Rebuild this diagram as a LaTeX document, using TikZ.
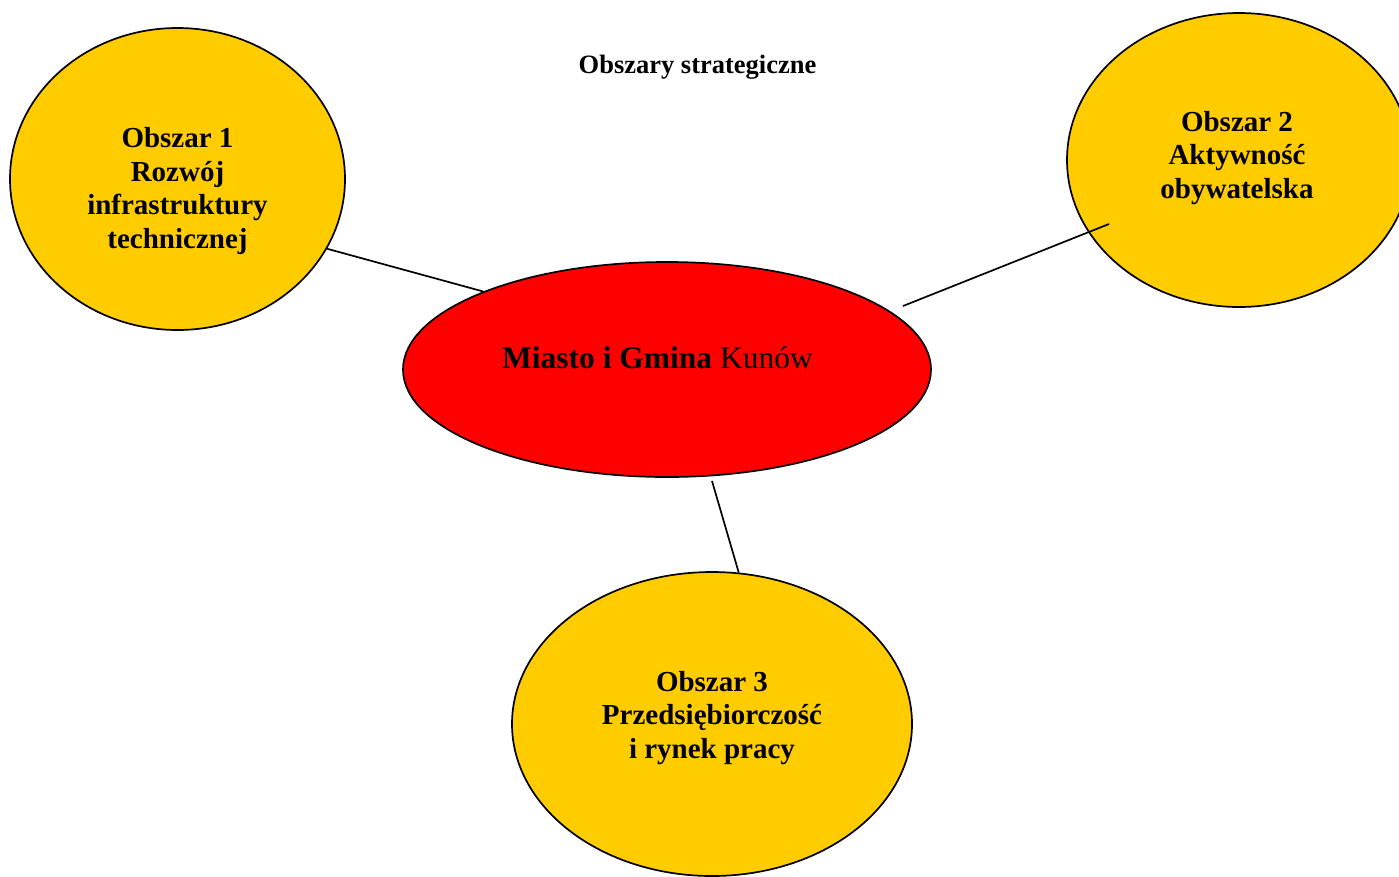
\documentclass[tikz,border=0pt]{standalone}
\usepackage{fontspec}
\setmainfont{Liberation Serif}
\usetikzlibrary{shapes.geometric}
\definecolor{areayellow}{RGB}{255,204,0}
\definecolor{corered}{RGB}{255,0,0}
\tikzset{
  area/.style={ellipse, draw=black, line width=1.7pt, fill=areayellow, inner sep=0pt},
  core/.style={ellipse, draw=black, line width=1.7pt, fill=corered, inner sep=0pt},
  areatext/.style={align=center, inner sep=0pt, font=\fontsize{29}{33.5}\selectfont\bfseries},
  link/.style={draw=black, line width=1.7pt}
}
\begin{document}
\begin{tikzpicture}[x=1pt,y=-1pt]
\useasboundingbox (0,0) rectangle (1399,876);
\clip (0,0) rectangle (1399,876);
\fill[white] (0,0) rectangle (1399,876);

\node[anchor=base, inner sep=0pt, font=\fontsize{26.5}{30}\selectfont\bfseries] (title) at (697.5,73.3) {Obszary strategiczne};

\node[area, minimum width=335pt, minimum height=302pt] (o1) at (177.5,179) {};
\node[area, minimum width=344pt, minimum height=294pt] (o2) at (1239,160) {};
\node[core, minimum width=528pt, minimum height=215pt] (c) at (667,369.5) {};
\node[area, minimum width=400pt, minimum height=304pt] (o3) at (712,724) {};

\node[areatext] (t1) at (177.5,191) {Obszar 1\\Rozwój\\infrastruktury\\technicznej};
\node[areatext] (t2) at (1237,157.7) {Obszar 2\\Aktywność\\obywatelska};
\node[areatext] (t3) at (712,717.7) {Obszar 3\\Przedsiębiorczość\\i rynek pracy};
\node[anchor=base, inner sep=0pt, font=\fontsize{31.5}{36}\selectfont] (tc) at (657.5,368.3) {\textbf{Miasto i Gmina} Kunów};

\coordinate (l2a) at (903,306);
\coordinate (l2b) at (1109,224);
\coordinate (l3a) at (712,481);

\draw[link] (o1.-25) -- (c.157.6);
\draw[link] (l2a) -- (l2b);
\draw[link] (l3a) -- (o3.80.6);
\end{tikzpicture}
\end{document}
